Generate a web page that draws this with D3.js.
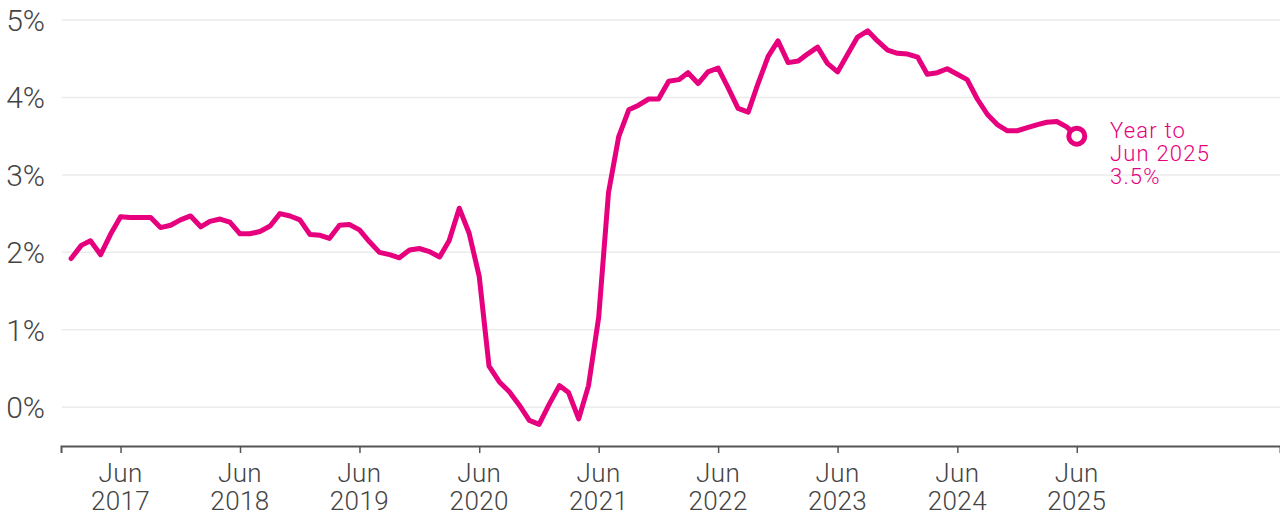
<!DOCTYPE html>
<html>
<head>
<meta charset="utf-8">
<script src="https://cdn.jsdelivr.net/npm/d3@7"></script>
<style>
  html, body { margin: 0; padding: 0; background: #fff; }
  svg { display: block; }
  text { font-family: Roboto, "Open Sans", sans-serif; font-weight: 300; }
</style>
</head>
<body>
<svg id="chart" width="1280" height="518"></svg>
<script>
// Monthly series, year-over-year %, starting Jan 2017
const startMonth = "2017-01";
const values = [
  1.92, 2.09, 2.15, 1.97, 2.23, 2.46, 2.45, 2.45, 2.45, 2.32, 2.35, 2.42, // 2017
  2.47, 2.33, 2.40, 2.43, 2.39, 2.24, 2.24, 2.27, 2.34, 2.50, 2.47, 2.42, // 2018
  2.23, 2.22, 2.18, 2.35, 2.36, 2.29, 2.14, 2.00, 1.97, 1.93, 2.03, 2.05, // 2019
  2.01, 1.94, 2.15, 2.57, 2.25, 1.69, 0.53, 0.33, 0.20, 0.03, -0.17, -0.22, // 2020
  0.04, 0.28, 0.19, -0.15, 0.28, 1.16, 2.77, 3.49, 3.84, 3.90, 3.98, 3.98, // 2021
  4.21, 4.23, 4.32, 4.18, 4.33, 4.38, 4.13, 3.86, 3.81, 4.18, 4.53, 4.73, // 2022
  4.45, 4.47, 4.56, 4.65, 4.44, 4.33, 4.55, 4.78, 4.86, 4.73, 4.61, 4.57, // 2023
  4.56, 4.52, 4.30, 4.32, 4.37, 4.30, 4.23, 3.98, 3.78, 3.65, 3.57, 3.57, // 2024
  3.61, 3.65, 3.68, 3.69, 3.62, 3.50                                       // 2025
];
const yTicks = [0, 1, 2, 3, 4, 5];
const xTickYears = [2017, 2018, 2019, 2020, 2021, 2022, 2023, 2024, 2025];
const xTickMonth = "Jun";
const annotationLines = ["Year to", "Jun 2025", "3.5%"];

const parse = d3.timeParse("%Y-%m");
const t0 = parse(startMonth);
const data = values.map((v, i) => ({ date: d3.timeMonth.offset(t0, i), value: v }));

const svg = d3.select("#chart");
const W = 1280;
const pink = "#e6007e";

const x = d3.scaleTime()
  .domain([new Date(2016, 11, 1), new Date(2027, 1, 12)])
  .range([61, W]);
const y = d3.scaleLinear().domain([-0.5, 5]).range([446, 20]);

// gridlines
svg.append("g")
  .selectAll("line")
  .data(yTicks)
  .join("line")
  .attr("x1", 62).attr("x2", W)
  .attr("y1", d => y(d)).attr("y2", d => y(d))
  .attr("stroke", "#ebebeb").attr("stroke-width", 1.5);

// y labels
svg.append("g")
  .selectAll("text")
  .data(yTicks)
  .join("text")
  .attr("x", 45)
  .attr("y", d => y(d))
  .attr("dy", "0.36em")
  .attr("text-anchor", "end")
  .attr("font-size", 30)
  .attr("fill", "#444")
  .text(d => d + "%");

// x axis
const xAxis = d3.axisBottom(x)
  .tickValues(xTickYears.map(yr => new Date(yr, 5, 1)))
  .tickSize(7)
  .tickFormat("");
const gx = svg.append("g").attr("transform", `translate(0,${y(-0.5)})`).call(xAxis);
gx.select(".domain").attr("stroke", "#555").attr("stroke-width", 2);
gx.selectAll(".tick line").attr("stroke", "#555").attr("stroke-width", 1.5);

const labels = svg.append("g")
  .selectAll("text")
  .data(xTickYears)
  .join("text")
  .attr("x", yr => x(new Date(yr, 5, 1)))
  .attr("y", 482)
  .attr("text-anchor", "middle")
  .attr("font-size", 26)
  .attr("letter-spacing", 0.4)
  .attr("fill", "#444");
labels.append("tspan").attr("x", yr => x(new Date(yr, 5, 1))).text(xTickMonth);
labels.append("tspan").attr("x", yr => x(new Date(yr, 5, 1))).attr("dy", 28).text(yr => yr);

// line
const line = d3.line().x(d => x(d.date)).y(d => y(d.value));
svg.append("path")
  .datum(data)
  .attr("fill", "none")
  .attr("stroke", pink)
  .attr("stroke-width", 5)
  .attr("stroke-linejoin", "round")
  .attr("stroke-linecap", "round")
  .attr("d", line);

// end marker
const last = data[data.length - 1];
svg.append("circle")
  .attr("cx", x(last.date)).attr("cy", y(last.value))
  .attr("r", 8)
  .attr("fill", "#fff")
  .attr("stroke", pink)
  .attr("stroke-width", 5);

// annotation
const ann = svg.append("text")
  .attr("x", 1110)
  .attr("y", 138)
  .attr("font-size", 22)
  .attr("letter-spacing", 1.2)
  .attr("fill", pink);
annotationLines.forEach((s, i) => {
  ann.append("tspan").attr("x", 1110).attr("dy", i === 0 ? 0 : 23).text(s);
});
</script>
</body>
</html>
